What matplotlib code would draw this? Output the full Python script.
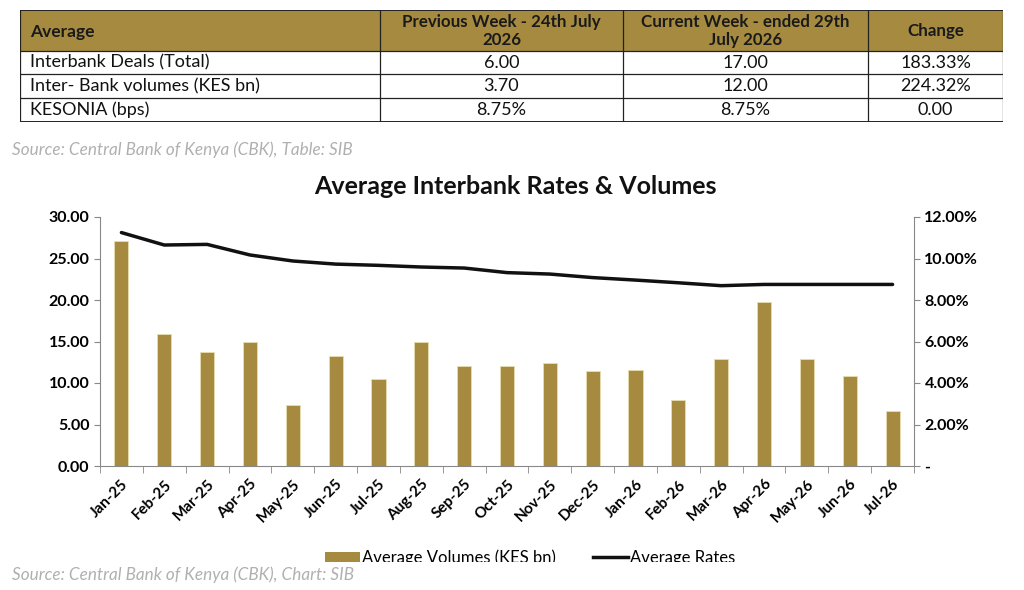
import matplotlib.pyplot as plt
from matplotlib.patches import Rectangle, Patch
from matplotlib.lines import Line2D
from matplotlib.ticker import FuncFormatter, MultipleLocator

plt.rcParams['font.family'] = ['Lato', 'DejaVu Sans']

gold = '#A58A40'

# table data
tbl_header = ['Average', 'Previous Week - 24th July\n2026', 'Current Week - ended 29th\nJuly 2026', 'Change']
tbl_rows = [
    ['Interbank Deals (Total)', '6.00', '17.00', '183.33%'],
    ['Inter- Bank volumes (KES bn)', '3.70', '12.00', '224.32%'],
    ['KESONIA (bps)', '8.75%', '8.75%', '0.00'],
]

# chart data
months = ['Jan-25', 'Feb-25', 'Mar-25', 'Apr-25', 'May-25', 'Jun-25', 'Jul-25', 'Aug-25',
          'Sep-25', 'Oct-25', 'Nov-25', 'Dec-25', 'Jan-26', 'Feb-26', 'Mar-26', 'Apr-26',
          'May-26', 'Jun-26', 'Jul-26']
volumes = [27.1, 15.9, 13.7, 15.0, 7.4, 13.3, 10.5, 15.0, 12.0, 12.0, 12.4, 11.5, 11.6,
           8.0, 12.9, 19.8, 12.9, 10.9, 6.6]
rates = [11.25, 10.65, 10.68, 10.17, 9.88, 9.73, 9.67, 9.59, 9.54, 9.32, 9.25, 9.08, 8.96,
         8.83, 8.69, 8.75, 8.75, 8.75, 8.75]

fig = plt.figure(figsize=(10.24, 5.9), dpi=100)

# ---- table, drawn in pixel-like coords
tax = fig.add_axes([20 / 1024, 1 - 122 / 590, 983 / 1024, 112 / 590])
tax.set_xlim(20, 1003)
tax.set_ylim(122, 10)
tax.axis('off')
col_x = [20, 380, 623, 868, 1003]
row_y = [10, 51, 74, 98, 122]
tax.add_patch(Rectangle((20, 10), 983, 41, facecolor=gold, edgecolor='none'))
for x in col_x:
    tax.plot([x, x], [10, 122], color='#222222', lw=0.9)
for y in row_y:
    tax.plot([20, 1003], [y, y], color='#222222', lw=1.4 if y in (10, 122) else 0.9)
for j, h in enumerate(tbl_header):
    if j == 0:
        tax.text(30, 32, h, ha='left', va='center', fontsize=12.5, fontweight='bold', color='#1a1a1a')
    else:
        tax.text((col_x[j] + col_x[j + 1]) / 2, 31, h, ha='center', va='center', fontsize=12.2,
                 fontweight='bold', color='#1a1a1a', linespacing=1.2)
for i, row in enumerate(tbl_rows):
    yc = (row_y[i + 1] + row_y[i + 2]) / 2
    for j, v in enumerate(row):
        if j == 0:
            tax.text(30, yc, v, ha='left', va='center', fontsize=13, color='#111111')
        else:
            tax.text((col_x[j] + col_x[j + 1]) / 2, yc, v, ha='center', va='center',
                     fontsize=13, color='#111111')

fig.text(12 / 1024, 1 - 150 / 590, 'Source: Central Bank of Kenya (CBK), Table: SIB', fontsize=12.3,
         style='italic', color='#b0b0b0', va='center')

# ---- chart
ax = fig.add_axes([100 / 1024, 1 - 466 / 590, 814 / 1024, 249 / 590])
x = list(range(len(months)))
ax.bar(x, volumes, width=0.33, color=gold, edgecolor='#e8dcb0', linewidth=0.6, zorder=2)
ax.set_xlim(-0.5, len(months) - 0.5)
ax.set_ylim(0, 30)
ax.yaxis.set_major_locator(MultipleLocator(5))
ax.yaxis.set_major_formatter(FuncFormatter(lambda v, p: f'{v:.2f}'))
ax.set_xticks(x)
ax.set_xticklabels(months, rotation=45, ha='right', rotation_mode='anchor', fontsize=11,
                   fontweight='bold')
ax.set_xticks([i - 0.5 for i in range(len(months) + 1)], minor=True)
ax.tick_params(axis='x', which='major', length=0, pad=8)
ax.tick_params(axis='x', which='minor', length=5, color='#888888', direction='out')
ax.tick_params(axis='y', labelsize=11.5, length=4, color='#888888')
for lbl in ax.get_yticklabels():
    lbl.set_fontweight('bold')
for s in ['top', 'right']:
    ax.spines[s].set_visible(False)
ax.spines['left'].set_color('#888888')
ax.spines['bottom'].set_color('#888888')

ax2 = ax.twinx()
ax2.plot(x, rates, color='#111111', lw=2.5, solid_capstyle='round', zorder=3)
ax2.set_ylim(0, 12)
ax2.yaxis.set_major_locator(MultipleLocator(2))
ax2.yaxis.set_major_formatter(FuncFormatter(lambda v, p: '-' if v == 0 else f'{v:.2f}%'))
ax2.tick_params(axis='y', labelsize=11.5, length=4, color='#888888')
for lbl in ax2.get_yticklabels():
    lbl.set_fontweight('bold')
for s in ['top', 'left', 'bottom']:
    ax2.spines[s].set_visible(False)
ax2.spines['right'].set_color('#888888')

fig.text(515 / 1024, 1 - 186 / 590, 'Average Interbank Rates & Volumes', ha='center', va='center',
         fontsize=18, fontweight='bold', color='#111111')

handles = [Patch(facecolor=gold, edgecolor='none'), Line2D([0], [0], color='#111111', lw=2.5)]
leg = fig.legend(handles, ['Average Volumes (KES bn)', 'Average Rates'], loc='center',
                 bbox_to_anchor=(530 / 1024, 1 - 558 / 590), ncol=2, frameon=False,
                 fontsize=12, handlelength=2.1, columnspacing=2.2, handletextpad=0.15)
# the legend is cut off at the bottom in the original
fig.patches.append(Rectangle((0, 0), 1, (590 - 562) / 590, transform=fig.transFigure,
                             facecolor='white', edgecolor='none', zorder=6))

fig.text(12 / 1024, 1 - 575 / 590, 'Source: Central Bank of Kenya (CBK), Chart: SIB', fontsize=12.3,
         style='italic', color='#b0b0b0', va='center', zorder=10)

fig.savefig('out.png', dpi=100)
